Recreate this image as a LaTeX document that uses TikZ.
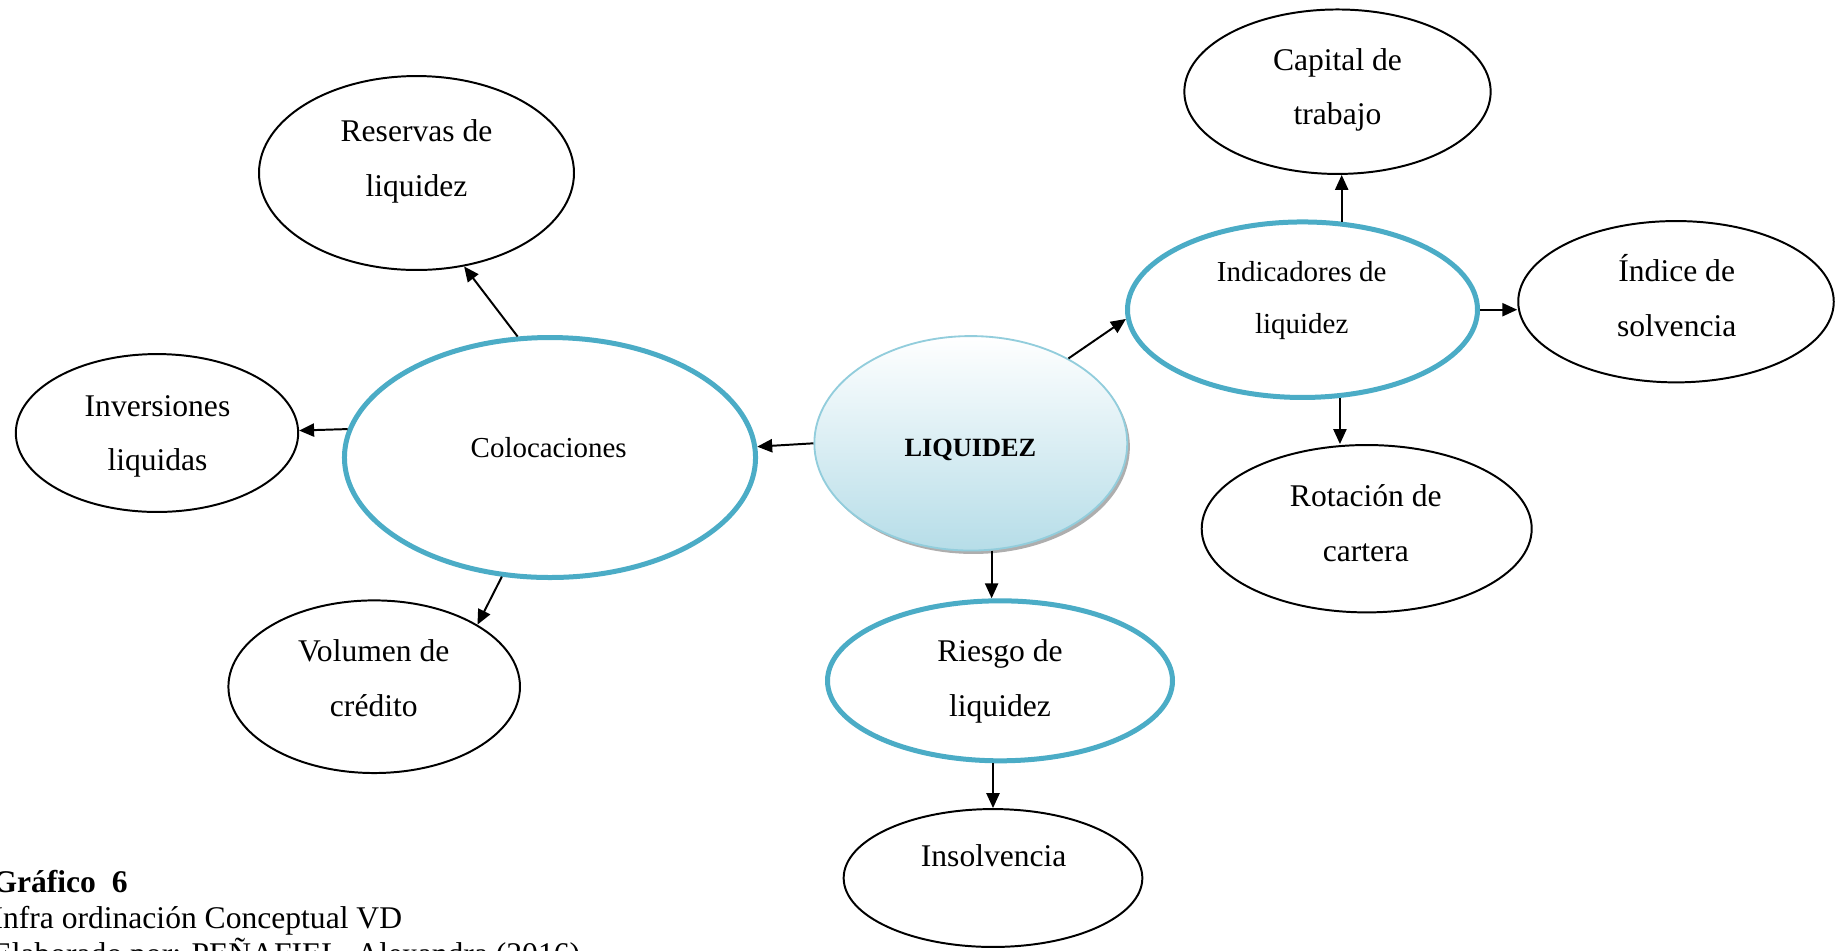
\documentclass[tikz,border=0pt]{standalone}
\usepackage{fontspec}
\setmainfont{Liberation Serif}
\usetikzlibrary{arrows.meta,shadows,shapes.geometric}
\definecolor{accblue}{HTML}{4BACC6}
\definecolor{liqedge}{HTML}{92CDDC}
\definecolor{liqfill}{HTML}{B6DDE8}
\newcommand{\twoln}[2]{\begin{tabular}[t]{@{}c@{}}#1\\#2\end{tabular}}
\begin{document}
\begin{tikzpicture}[x=0.38pt,y=-0.38pt,
  ell/.style={ellipse,draw=black,line width=0.75pt,fill=white,inner sep=0pt},
  keyell/.style={ellipse,draw=accblue,line width=1.9pt,fill=white,inner sep=0pt},
  txt/.style={anchor=base,inner sep=0pt,font=\fontsize{12}{20.8}\selectfont},
  txtsm/.style={anchor=base,inner sep=0pt,font=\fontsize{11}{19.6}\selectfont},
  captxt/.style={anchor=base west,inner sep=0pt,font=\fontsize{12}{14}\selectfont},
  arr/.style={line width=0.75pt,-{Triangle[length=5.7pt,width=5pt]}}]

\useasboundingbox (0,0) rectangle (1845,950);

% ellipses
\node[ell,minimum width=119.7pt,minimum height=73.7pt] (res) at (416.5,173) {};
\node[ell,minimum width=107.3pt,minimum height=60.0pt] (inv) at (157,433) {};
\node[keyell,minimum width=156.2pt,minimum height=91.2pt] (col) at (550,457.5) {};
\node[ell,minimum width=110.8pt,minimum height=65.6pt] (vol) at (374.2,686.7) {};
\node[ellipse,draw=liqedge,line width=0.7pt,top color=white,bottom color=liqfill,
      drop shadow={shadow xshift=1pt,shadow yshift=-1.3pt,fill=black!45,opacity=0.7},
      inner sep=0pt,minimum width=118.9pt,minimum height=81.5pt] (liq) at (970.8,443.3) {};
\node[keyell,minimum width=131.1pt,minimum height=60.8pt] (ris) at (1000,680.8) {};
\node[ell,minimum width=113.5pt,minimum height=52.4pt] (ins) at (993,878) {};
\node[keyell,minimum width=133pt,minimum height=66.7pt] (ind) at (1302.5,309.7) {};
\node[ell,minimum width=116.4pt,minimum height=62.5pt] (cap) at (1337.5,91.7) {};
\node[ell,minimum width=119.9pt,minimum height=61.3pt] (idx) at (1676,301.7) {};
\node[ell,minimum width=125.4pt,minimum height=63.6pt] (rot) at (1366.7,528.7) {};

% texts
\node[txt] (res-t) at (416.5,141.7) {\twoln{Reservas de}{liquidez}};
\node[txt] (inv-t) at (157.5,416) {\twoln{Inversiones}{liquidas}};
\node[txtsm] (col-t) at (548.7,457.3) {Colocaciones};
\node[txt] (vol-t) at (373.8,661.7) {\twoln{Volumen de}{crédito}};
\node[anchor=base,inner sep=0pt,font=\fontsize{10}{12}\selectfont\bfseries] (liq-t) at (970.3,456) {LIQUIDEZ};
\node[txt] (ris-t) at (1000,661.7) {\twoln{Riesgo de}{liquidez}};
\node[txt] (ins-t) at (993.7,866.7) {Insolvencia};
\node[txtsm] (ind-t) at (1301.7,281.7) {\twoln{Indicadores de}{liquidez}};
\node[txt] (cap-t) at (1337.5,70) {\twoln{Capital de}{trabajo}};
\node[txt] (idx-t) at (1676.7,281.7) {\twoln{Índice de}{solvencia}};
\node[txt] (rot-t) at (1365.8,506.7) {\twoln{Rotación de}{cartera}};

% connectors
\draw[arr] (liq.180) -- (col.3.7);
\draw[arr] (col.105.9) -- (res.297.3);
\draw[arr] (col.172.2) -- (inv.1.5);
\draw[arr] (col.248.5) -- (vol.31.7);
\draw[arr] (liq.41.6) -- (ind.183.6);
\draw[arr] (liq.281) -- (liq.281 |- ris.north);
\draw[arr] (ins.north |- ris.south) -- (ins.north);
\draw[arr] (ind.66.6) -- (ind.66.6 |- cap.south);
\draw[arr] (ind.east) -- (ind.east -| idx.west);
\draw[arr] (ind.293.4) -- (ind.293.4 |- rot.north);

% caption
\node[captxt,font=\fontsize{12}{14}\selectfont\bfseries] (cap1) at (-8,892) {Gráfico\ \ 6};
\node[captxt] (cap2) at (-8,928) {Infra ordinación Conceptual VD};
\node[captxt] (cap3) at (-8,964) {Elaborado por: PEÑAFIEL, Alexandra (2016)};
\end{tikzpicture}
\end{document}
